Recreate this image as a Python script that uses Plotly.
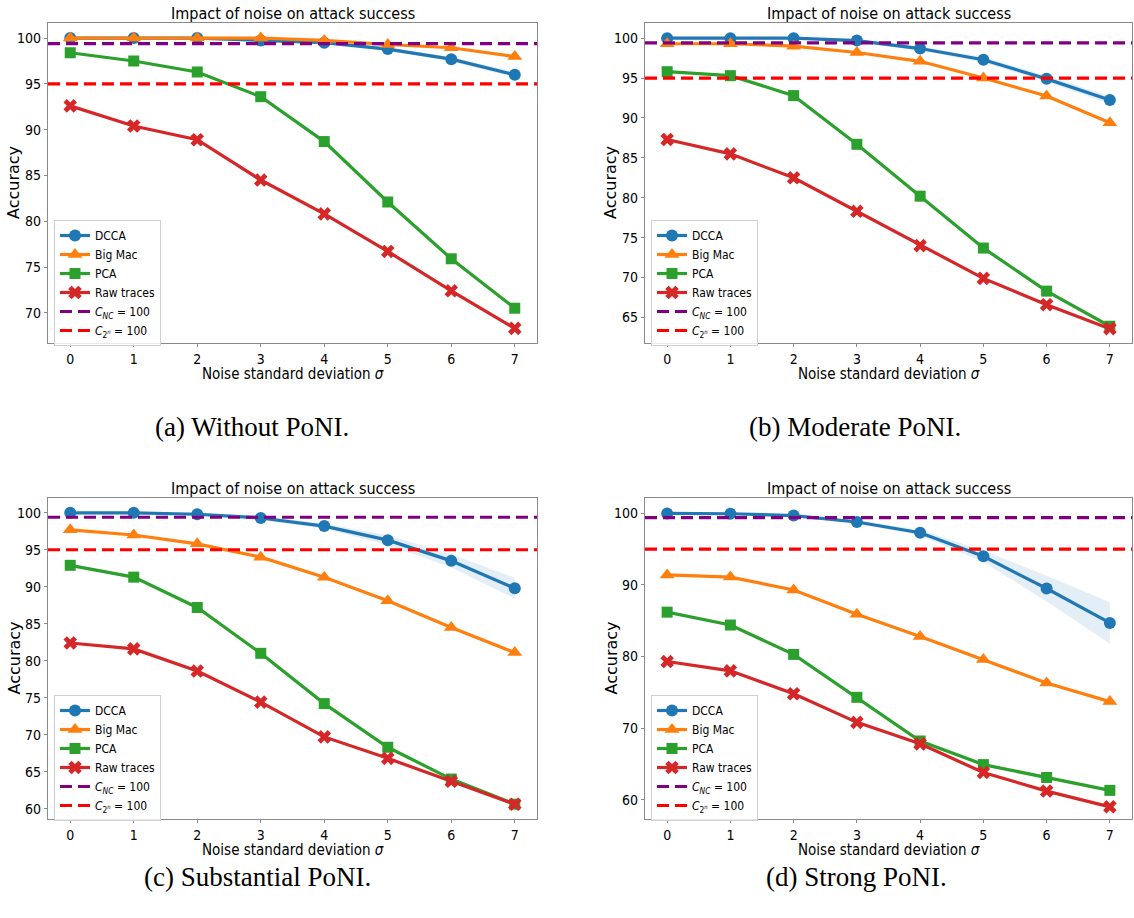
import plotly.graph_objects as go

# Noise standard deviation sigma
sigma = [0, 1, 2, 3, 4, 5, 6, 7]

# (a) Without PoNI
dcca_a = [100.0, 100.0, 100.0, 99.75, 99.5, 98.8, 97.7, 96.0]
dcca_spread_a = [0.05, 0.05, 0.05, 0.1, 0.15, 0.2, 0.25, 0.3]
bigmac_a = [100.0, 100.0, 100.0, 100.0, 99.75, 99.3, 98.95, 98.0]
pca_a = [98.4, 97.5, 96.3, 93.6, 88.7, 82.1, 75.9, 70.5]
raw_a = [92.6, 90.4, 88.9, 84.5, 80.8, 76.7, 72.4, 68.3]

# (b) Moderate PoNI
dcca_b = [100.0, 100.0, 100.0, 99.7, 98.7, 97.3, 94.9, 92.25]
dcca_spread_b = [0.1, 0.1, 0.15, 0.2, 0.25, 0.35, 0.4, 0.5]
bigmac_b = [99.3, 99.3, 99.0, 98.2, 97.1, 95.0, 92.75, 89.4]
pca_b = [95.8, 95.3, 92.8, 86.7, 80.2, 73.7, 68.3, 63.9]
raw_b = [87.3, 85.5, 82.5, 78.3, 74.0, 69.9, 66.6, 63.6]

# (c) Substantial PoNI
dcca_c = [100.0, 100.0, 99.8, 99.3, 98.2, 96.3, 93.5, 89.8]
dcca_spread_c = [0.1, 0.1, 0.2, 0.3, 0.35, 0.65, 0.9, 1.4]
bigmac_c = [97.7, 97.0, 95.8, 94.0, 91.3, 88.1, 84.5, 81.1]
pca_c = [92.9, 91.3, 87.2, 81.0, 74.2, 68.3, 64.0, 60.6]
raw_c = [82.4, 81.6, 78.6, 74.4, 69.7, 66.8, 63.7, 60.6]

# (d) Strong PoNI
dcca_d = [100.0, 99.95, 99.7, 98.8, 97.3, 94.0, 89.5, 84.7]
dcca_spread_d = [0.05, 0.1, 0.15, 0.25, 0.4, 0.8, 1.8, 2.9]
bigmac_d = [91.4, 91.1, 89.3, 85.9, 82.8, 79.6, 76.3, 73.7]
pca_d = [86.2, 84.4, 80.3, 74.3, 68.2, 64.9, 63.1, 61.3]
raw_d = [79.3, 78.0, 74.8, 70.8, 67.8, 63.8, 61.2, 59.0]

# Reference accuracy levels
c_nc_level = 99.4
c_2n_level = 95.0

captions = ["(a) Without PoNI.", "(b) Moderate PoNI.",
            "(c) Substantial PoNI.", "(d) Strong PoNI."]
title_text = "Impact of noise on attack success"
x_title = "Noise standard deviation <i>σ</i>"
y_title = "Accuracy"

W, H = 1134, 918
NARROW = "Liberation Sans Narrow, DejaVu Sans Condensed, Arial Narrow, sans-serif"
BLUE, ORANGE, GREEN, RED = "#1f77b4", "#ff7f0e", "#2ca02c", "#d62728"
AXIS_COLOR = "#8a8a8a"

x_range = [-0.35, 7.35]

# pixel boxes of each panel: (left, right, top, bottom)
panels = [
    dict(box=(48, 537, 23, 343), yr=[66.7, 101.65], dt=5,
         dcca=dcca_a, sp=dcca_spread_a, bm=bigmac_a, pca=pca_a, raw=raw_a,
         cap=(252, 427), ylab_x=14, leg=(54, 220)),
    dict(box=(645, 1132, 23, 343), yr=[61.8, 101.9], dt=5,
         dcca=dcca_b, sp=dcca_spread_b, bm=bigmac_b, pca=pca_b, raw=raw_b,
         cap=(855, 427), ylab_x=611, leg=(651, 220)),
    dict(box=(48, 537, 498, 819), yr=[58.6, 102.0], dt=5,
         dcca=dcca_c, sp=dcca_spread_c, bm=bigmac_c, pca=pca_c, raw=raw_c,
         cap=(257, 877), ylab_x=14, leg=(54, 695)),
    dict(box=(645, 1132, 498, 819), yr=[57.3, 102.15], dt=10,
         dcca=dcca_d, sp=dcca_spread_d, bm=bigmac_d, pca=pca_d, raw=raw_d,
         cap=(856, 877), ylab_x=611, leg=(651, 695)),
]

fig = go.Figure()
layout = dict(
    width=W, height=H, margin=dict(l=0, r=0, t=0, b=0),
    paper_bgcolor="white", plot_bgcolor="white", showlegend=True,
)
annotations = []

for i, p in enumerate(panels):
    n = "" if i == 0 else str(i + 1)
    xa, ya = "x" + n, "y" + n
    leg = "legend" + n
    l, r, t, b = p["box"]

    layout["xaxis" + n] = dict(
        domain=[l / W, r / W], range=x_range, anchor=ya,
        tickmode="array", tickvals=sigma, ticktext=[str(s) for s in sigma],
        showgrid=False, zeroline=False, showline=True, mirror=True,
        linecolor=AXIS_COLOR, linewidth=1.2, ticks="outside", ticklen=3,
        tickcolor=AXIS_COLOR, tickfont=dict(family=NARROW, size=14, color="black"),
    )
    layout["yaxis" + n] = dict(
        domain=[1 - b / H, 1 - t / H], range=p["yr"], anchor=xa,
        dtick=p["dt"], tick0=0,
        showgrid=False, zeroline=False, showline=True, mirror=True,
        linecolor=AXIS_COLOR, linewidth=1.2, ticks="outside", ticklen=3,
        tickcolor=AXIS_COLOR, tickfont=dict(family=NARROW, size=14, color="black"),
    )

    lx, ly = p["leg"]
    layout[leg] = dict(
        x=lx / W, y=1 - ly / H, xanchor="left", yanchor="top",
        xref="paper", yref="paper", traceorder="normal",
        bgcolor="rgba(255,255,255,0.8)", bordercolor="#d0d0d0", borderwidth=1,
        font=dict(family=NARROW, size=12, color="black"),
        itemwidth=30, tracegroupgap=0,
    )

    # DCCA confidence band
    lo = [m - s for m, s in zip(p["dcca"], p["sp"])]
    hi = [m + s for m, s in zip(p["dcca"], p["sp"])]
    fig.add_trace(go.Scatter(x=sigma, y=lo, xaxis=xa, yaxis=ya, mode="lines",
                             line=dict(width=0, color=BLUE), showlegend=False,
                             hoverinfo="skip"))
    fig.add_trace(go.Scatter(x=sigma, y=hi, xaxis=xa, yaxis=ya, mode="lines",
                             line=dict(width=0, color=BLUE), fill="tonexty",
                             fillcolor="rgba(31,119,180,0.12)", showlegend=False,
                             hoverinfo="skip"))

    series = [
        ("DCCA", p["dcca"], BLUE, "circle", 12),
        ("Big Mac", p["bm"], ORANGE, "triangle-up", 13),
        ("PCA", p["pca"], GREEN, "square", 11),
        ("Raw traces", p["raw"], RED, "x", 12),
    ]
    for name, vals, col, sym, sz in series:
        fig.add_trace(go.Scatter(
            x=sigma, y=vals, xaxis=xa, yaxis=ya, mode="lines+markers", name=name,
            line=dict(color=col, width=3.2),
            marker=dict(symbol=sym, size=sz, color=col, line=dict(width=0)),
            legend=leg,
        ))

    for name, level, col in [
        ("<i>C</i><sub><i>NC</i></sub> = 100", c_nc_level, "purple"),
        ("<i>C</i><sub>2<sup><i>n</i></sup></sub> = 100", c_2n_level, "red"),
    ]:
        fig.add_trace(go.Scatter(
            x=x_range, y=[level, level], xaxis=xa, yaxis=ya, mode="lines",
            name=name, line=dict(color=col, width=3.2, dash="12px,6px"),
            legend=leg, hoverinfo="skip",
        ))

    cx = (l + r) / 2
    annotations.append(dict(text=title_text, x=cx / W, y=1 - (t - 10) / H,
                            xref="paper", yref="paper", showarrow=False,
                            xanchor="center", yanchor="middle",
                            font=dict(family=NARROW, size=16, color="black")))
    annotations.append(dict(text=x_title, x=cx / W, y=1 - (b + 31) / H,
                            xref="paper", yref="paper", showarrow=False,
                            xanchor="center", yanchor="middle",
                            font=dict(family=NARROW, size=15, color="black")))
    annotations.append(dict(text=y_title, x=p["ylab_x"] / W, y=1 - ((t + b) / 2) / H,
                            xref="paper", yref="paper", showarrow=False,
                            textangle=-90, xanchor="center", yanchor="middle",
                            font=dict(family="DejaVu Sans", size=16, color="black")))
    capx, capy = p["cap"]
    annotations.append(dict(text=captions[i], x=capx / W, y=1 - capy / H,
                            xref="paper", yref="paper", showarrow=False,
                            xanchor="center", yanchor="middle",
                            font=dict(family="Liberation Serif", size=27, color="black")))

layout["annotations"] = annotations
fig.update_layout(**layout)
fig.write_html("out.html")
